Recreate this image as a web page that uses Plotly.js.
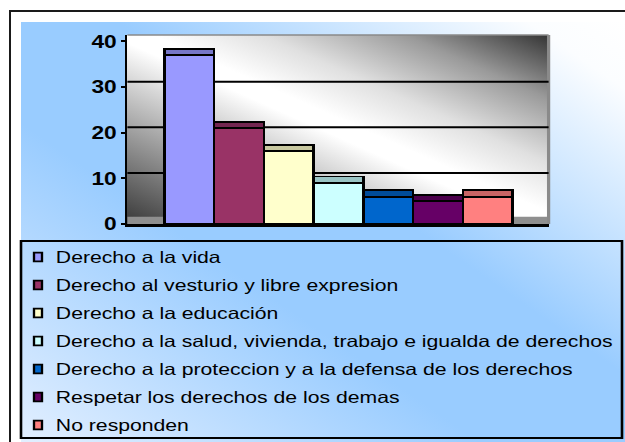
<!DOCTYPE html>
<html>
<head>
<meta charset="utf-8">
<script src="https://cdn.plot.ly/plotly-3.0.1.min.js"></script>
<style>
  html, body { margin:0; padding:0; background:#fff; overflow:hidden; width:625px; height:442px; }
  #stage { position:absolute; left:0; top:0; width:625px; height:442px; overflow:hidden; }
  #outer { position:absolute; left:9px; top:10px; width:700px; height:500px; border-left:2px solid #1a1a1a; border-top:2px solid #1a1a1a; }
  #area { position:absolute; left:21px; top:22px; width:604px; height:420px;
          background: linear-gradient(to bottom left, #ffffff 0%, #fbfdff 8%, #99ccff 42%, #99ccff 62%, #e2efff 100%); }
  #wall { position:absolute; left:127px; top:35px; width:422px; height:189px;
          background: linear-gradient(to top right, #383838 0%, #ffffff 48%, #ffffff 53%, #e0e0e0 66%, #9a9a9a 83%, #343434 100%); }
  #plot { position:absolute; left:0; top:0; width:481px; height:442px; transform:scaleX(1.3); transform-origin:0 0; }
</style>
</head>
<body>
<div id="stage">
  <div id="outer"></div>
  <div id="area"></div>
  <div id="wall"></div>
  <div id="plot"></div>
</div>
<script>
// ---- data ----
const categories = [
  "Derecho a la vida",
  "Derecho al vesturio y libre expresion",
  "Derecho a la educación",
  "Derecho a la salud, vivienda, trabajo e igualda de derechos",
  "Derecho a la proteccion y a la defensa de los derechos",
  "Respetar los derechos de los demas",
  "No responden"
];
const values = [37, 21, 16, 9, 6, 5, 6];
const frontColors = ["#9999FF", "#993366", "#FFFFCC", "#CCFFFF", "#0066CC", "#660066", "#FF8080"];
const topColors   = ["#7676C8", "#732650", "#C8C8A0", "#99C4C4", "#004C99", "#4C004C", "#C86464"];
const yTicks = [0, 10, 20, 30, 40];
const gridValues = [10, 20, 30];

// ---- style constants ----
const DEPTH = 1.4;        // visible top face of the 3-D columns (axis units)
const WALL_OFFSET = 1.2;  // back-wall gridlines sit a bit higher than the front scale
const FLOOR = 1.6;
const W = 481, H = 442;
const M = {l: 98, r: 59, t: 35, b: 218};
const PW = W - M.l - M.r, PH = H - M.t - M.b;
const S = 1.3;
const px = x => (x / S - M.l) / PW;     // final-screen x -> paper
const py = y => (H - M.b - y) / PH;     // screen y -> paper
const FONT = "Arial, 'Liberation Sans', sans-serif";

const data = [
  {type:'bar', x:categories, y:values, width:1,
   marker:{color:frontColors, line:{color:'#000', width:1.9}},
   showlegend:false, hoverinfo:'skip'},
  {type:'bar', x:categories, y:categories.map(() => DEPTH), width:1,
   marker:{color:topColors, line:{color:'#000', width:1.9}},
   showlegend:false, hoverinfo:'skip'}
];

const shapes = [
  {type:'rect', xref:'paper', yref:'y', x0:0, x1:1, y0:0, y1:FLOOR,
   fillcolor:'#8f8f8f', line:{width:0}, layer:'below'},
  {type:'line', xref:'paper', yref:'paper', x0:0, x1:1, y0:1, y1:1,
   line:{color:'#8a8a8a', width:1.5}, layer:'below'},
  {type:'line', xref:'paper', yref:'paper', x0:1, x1:1, y0:0, y1:1,
   line:{color:'#8a8a8a', width:2.5}, layer:'below'}
];
gridValues.forEach(v => shapes.push({
  type:'line', xref:'paper', yref:'y', x0:0, x1:1, y0:v + WALL_OFFSET, y1:v + WALL_OFFSET,
  line:{color:'#000', width:2}, layer:'below'}));

// legend box
const LEG = {x0:21, x1:622, y0:241, y1:438, row0:257, rowH:28, sq:38, text:55};
shapes.push({type:'rect', xref:'paper', yref:'paper',
  x0:px(LEG.x0), x1:px(LEG.x1), y0:py(LEG.y1), y1:py(LEG.y0),
  line:{color:'#000', width:2}, fillcolor:'rgba(0,0,0,0)'});
const annotations = [];
categories.forEach((c, i) => {
  const yc = LEG.row0 + i * LEG.rowH;
  shapes.push({type:'rect', xref:'paper', yref:'paper',
    x0:px(LEG.sq - 4), x1:px(LEG.sq + 4), y0:py(yc + 4.3), y1:py(yc - 4.3),
    fillcolor:frontColors[i], line:{color:'#000', width:1.8}});
  annotations.push({xref:'paper', yref:'paper', x:px(LEG.text - 2), y:py(yc),
    xanchor:'left', yanchor:'middle', showarrow:false, text:c,
    font:{family:FONT, size:16.3, color:'#000'}});
});

const layout = {
  width:W, height:H, margin:M,
  paper_bgcolor:'rgba(0,0,0,0)', plot_bgcolor:'rgba(0,0,0,0)',
  barmode:'stack', bargap:0, showlegend:false,
  xaxis:{type:'category', range:[-1.245, 7.225], showticklabels:false, ticks:'',
         showgrid:false, zeroline:false, showline:true, linecolor:'#000', linewidth:2.5,
         fixedrange:true},
  yaxis:{range:[0, 41.42], tickvals:yTicks, ticktext:yTicks.map(String),
         ticks:'outside', ticklen:2.5, tickwidth:2, tickcolor:'#000',
         showgrid:false, zeroline:false, showline:true, linecolor:'#000', linewidth:2.2,
         tickfont:{family:FONT, size:17.5, color:'#000', weight:'bold'}, fixedrange:true},
  shapes:shapes, annotations:annotations,
  font:{family:FONT}
};
Plotly.newPlot('plot', data, layout, {staticPlot:true, displayModeBar:false});
</script>
</body>
</html>
